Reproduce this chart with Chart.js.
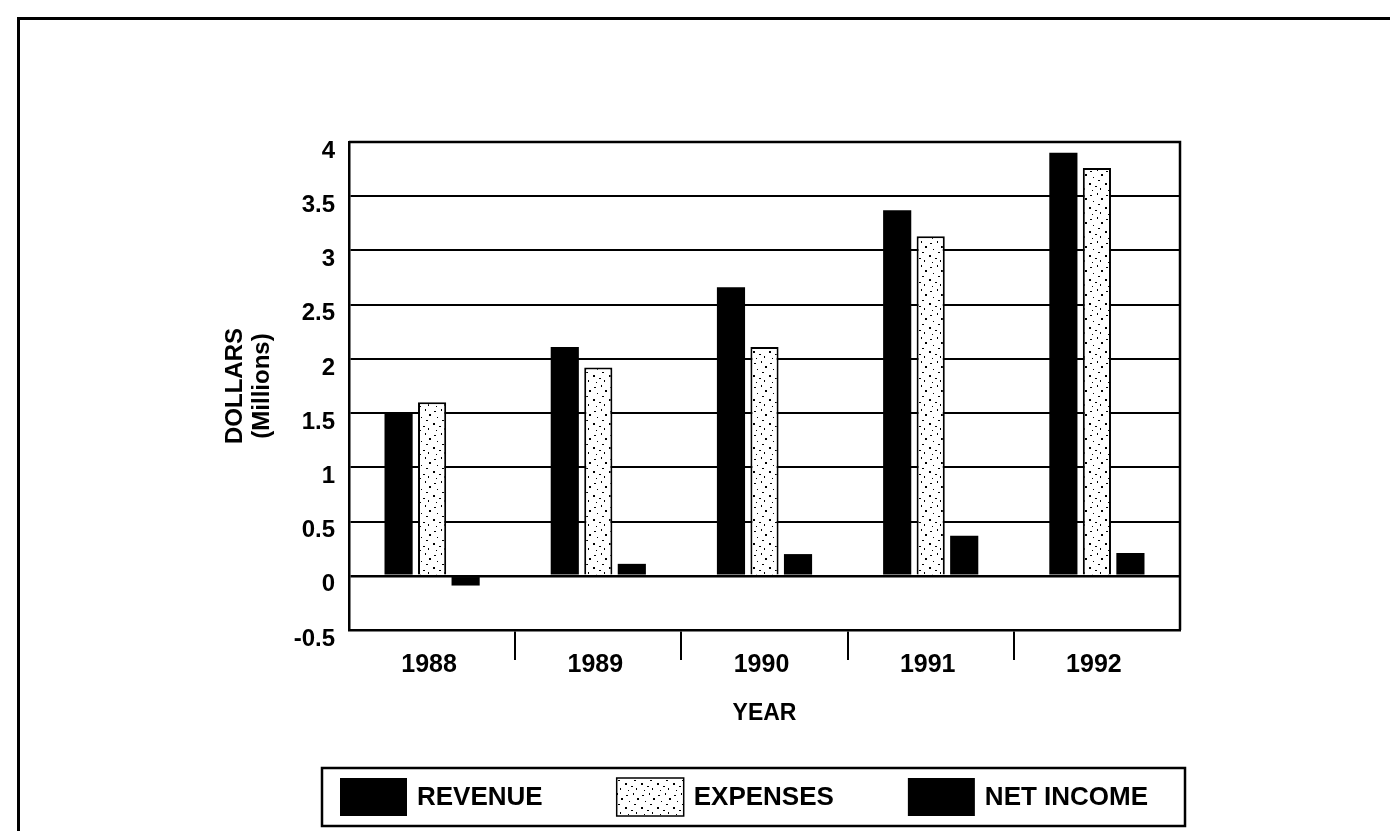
<!DOCTYPE html>
<html>
<head>
<meta charset="utf-8">
<title>Revenue, Expenses and Net Income 1988-1992</title>
<script src="https://cdn.jsdelivr.net/npm/chart.js@4"></script>
<style>
  html, body { margin: 0; padding: 0; background: #fff; }
  #frame { position: absolute; left: 17px; top: 17px; right: 0; bottom: 0; border-left: 3px solid #000; border-top: 3px solid #000; }
  #wrap { position: absolute; left: 0; top: 0; width: 1390px; height: 831px; }
</style>
</head>
<body>
<div id="frame"></div>
<div id="wrap"><canvas id="chart" width="1390" height="831"></canvas></div>
<script>
// data (millions of dollars)
const years = ['1988', '1989', '1990', '1991', '1992'];
const revenue = [1.5, 2.11, 2.66, 3.37, 3.9];
const expenses = [1.6, 1.92, 2.11, 3.13, 3.76];
const netIncome = [-0.09, 0.11, 0.2, 0.37, 0.21];
const yTickValues = [-0.5, 0, 0.5, 1, 1.5, 2, 2.5, 3, 3.5, 4];
const yTickLabels = ['-0.5', '0', '0.5', '1', '1.5', '2', '2.5', '3', '3.5', '4'];

const FONT = "'Liberation Sans', Arial, Helvetica, sans-serif";
Chart.defaults.font.family = FONT;
Chart.defaults.color = '#000';

const canvas = document.getElementById('chart');

// stippled fill for the expenses bars
function stipple() {
    const c = document.createElement('canvas');
    c.width = 16;
    c.height = 24;
    const g = c.getContext('2d');
    g.fillStyle = '#fff';
    g.fillRect(0, 0, 16, 24);
    g.fillStyle = '#000';
    [[2, 3, 2, 1], [9, 1, 1, 2], [13, 6, 2, 2], [5, 9, 1, 1], [10, 12, 2, 1],
     [1, 15, 2, 2], [7, 18, 2, 1], [12, 20, 1, 2], [4, 22, 1, 1]].forEach(([x, y, w, h]) => g.fillRect(x, y, w, h));
    return canvas.getContext('2d').createPattern(c, 'repeat');
}
const dots = stipple();

// plot frame (top / right) and the boxed legend under the axis
const framePlugin = {
    id: 'framePlugin',
    afterDraw(chart) {
        const { ctx, chartArea: a } = chart;
        ctx.save();
        ctx.strokeStyle = '#000';
        ctx.lineWidth = 2.5;
        ctx.beginPath();
        ctx.moveTo(a.left, a.top);
        ctx.lineTo(a.right, a.top);
        ctx.lineTo(a.right, a.bottom);
        ctx.stroke();

        // legend
        const left = a.left - 27, right = a.right + 5;
        const top = a.bottom + 138, bottom = top + 58;
        ctx.lineWidth = 2.5;
        ctx.strokeRect(left, top, right - left, bottom - top);

        ctx.font = 'bold 26px ' + FONT;
        ctx.textBaseline = 'middle';
        ctx.textAlign = 'left';
        let x = left + 18;
        chart.data.datasets.forEach(ds => {
            ctx.fillStyle = ds.backgroundColor;
            ctx.fillRect(x, top + 10, 67, 38);
            if (ds.borderWidth) {
                ctx.lineWidth = 1.5;
                ctx.strokeRect(x, top + 10, 67, 38);
            }
            ctx.fillStyle = '#000';
            ctx.fillText(ds.label, x + 77, top + 30);
            x += 77 + ctx.measureText(ds.label).width + 74;
        });
        ctx.restore();
    }
};

new Chart(canvas, {
    type: 'bar',
    data: {
        labels: years,
        datasets: [
            { label: 'REVENUE', data: revenue, backgroundColor: '#000', borderWidth: 0 },
            { label: 'EXPENSES', data: expenses, backgroundColor: dots, borderColor: '#000', borderWidth: 2 },
            { label: 'NET INCOME', data: netIncome, backgroundColor: '#000', borderWidth: 0 }
        ]
    },
    options: {
        responsive: false,
        animation: false,
        categoryPercentage: 0.605,
        barPercentage: 0.84,
        layout: { padding: { left: 0, top: 142, right: 210, bottom: 63 } },
        plugins: {
            legend: { display: false },
            tooltip: { enabled: false }
        },
        scales: {
            x: {
                grid: {
                    offset: true,
                    drawOnChartArea: false,
                    tickLength: 30,
                    lineWidth: 2,
                    color: c => (c.index === undefined || c.index === 0) ? 'rgba(0,0,0,0)' : '#000'
                },
                border: { display: true, color: '#000', width: 2.5 },
                ticks: { color: '#000', font: { size: 25, weight: 'bold' }, padding: -10, maxRotation: 0, labelOffset: -3 },
                title: {
                    display: true, text: 'YEAR', color: '#000',
                    font: { size: 23, weight: 'bold' }, padding: { top: 0, bottom: 41 }
                },
                afterFit: s => { s.height = 138; }
            },
            y: {
                min: -0.5,
                max: 4,
                afterBuildTicks: s => { s.ticks = yTickValues.map(v => ({ value: v })); },
                grid: {
                    color: '#000',
                    drawTicks: false,
                    lineWidth: c => (c.tick && c.tick.value === 0) ? 2.5 : 2
                },
                border: { display: true, color: '#000', width: 2.5 },
                ticks: {
                    color: '#000', font: { size: 24, weight: 'bold' }, padding: 14, labelOffset: 9,
                    callback: (v, i) => yTickLabels[i]
                },
                title: {
                    display: true, text: ['DOLLARS', '(Millions)'], color: '#000',
                    font: { size: 24, weight: 'bold', lineHeight: 1.13 }, padding: { top: 222, bottom: 0 }
                },
                afterFit: s => { s.width = 349; }
            }
        }
    },
    plugins: [framePlugin]
});
</script>
</body>
</html>
